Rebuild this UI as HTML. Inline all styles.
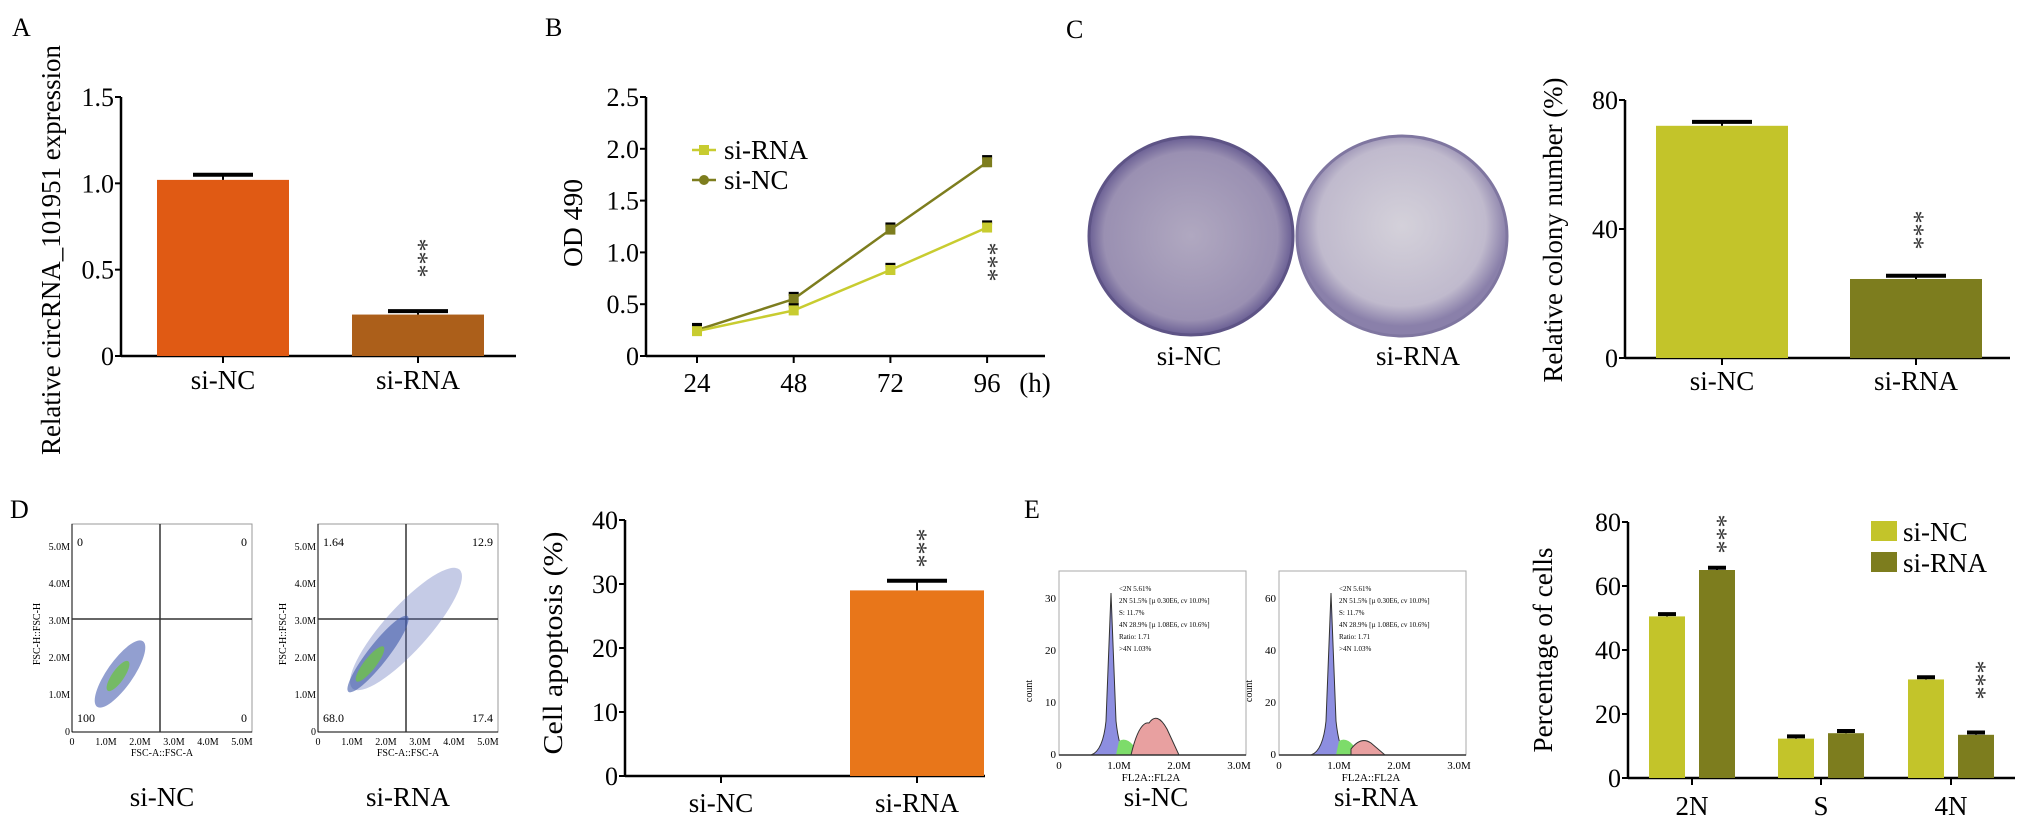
<!DOCTYPE html>
<html><head><meta charset="utf-8"><style>
html,body{margin:0;padding:0;background:#fff;}
svg, svg text{font-family:"Liberation Serif","Times New Roman",serif;}
svg{display:block;}
</style></head><body>
<svg id="fig" width="2031" height="829" viewBox="0 0 2031 829" xmlns="http://www.w3.org/2000/svg" font-family="Liberation Serif, serif">
<defs>
<radialGradient id="plate1" cx="50%" cy="50%" r="50%"><stop offset="0" stop-color="#b0a8c0"/><stop offset="0.85" stop-color="#9a90b2"/><stop offset="1" stop-color="#6a5f94"/></radialGradient>
<radialGradient id="plate2" cx="50%" cy="45%" r="50%"><stop offset="0" stop-color="#d4d1da"/><stop offset="0.8" stop-color="#c0bacd"/><stop offset="1" stop-color="#8a80aa"/></radialGradient>
</defs>
<g font-size="26" fill="#000">
<text x="12" y="36">A</text>
<text x="545" y="36">B</text>
<text x="1066" y="38">C</text>
<text x="10" y="518">D</text>
<text x="1024" y="518">E</text>
</g>
<g>
<ellipse cx="1191" cy="236" rx="102" ry="99" fill="url(#plate1)" stroke="#5e5486" stroke-width="3"/>
<ellipse cx="1402" cy="236" rx="105" ry="100" fill="url(#plate2)" stroke="#7f76a0" stroke-width="3"/>
<text x="1189" y="365" font-size="27" text-anchor="middle">si-NC</text>
<text x="1418" y="365" font-size="27" text-anchor="middle">si-RNA</text>
</g>
<g id="flow"></g>
<g id="hist"></g>
<g id="charts"></g>
</svg>
<script>
const NS="http://www.w3.org/2000/svg";
function el(tag,attrs,parent,txt){const e=document.createElementNS(NS,tag);for(const k in attrs)e.setAttribute(k,attrs[k]);if(txt!==undefined)e.textContent=txt;(parent||document.getElementById('charts')).appendChild(e);return e;}

// ---- data ----
const aCats=["si-NC","si-RNA"];
const aVals=[1.02,0.24];
const aErr=[0.03,0.02];
const aTicks=[0,0.5,1.0,1.5];
const bTimes=["24","48","72","96"];
const bSiRNA=[0.24,0.44,0.83,1.24];
const bSiNC=[0.25,0.55,1.22,1.87];
const bTicks=[0,0.5,1.0,1.5,2.0,2.5];
const cCats=["si-NC","si-RNA"];
const cVals=[72,24.5];
const cErr=[1.2,1];
const cTicks=[0,40,80];
const dCats=["si-NC","si-RNA"];
const dVals=[0,29];
const dErr=[0,1.5];
const dTicks=[0,10,20,30,40];
const eCats=["2N","S","4N"];
const eNC=[50.5,12.3,30.8];
const eRNA=[65,14,13.5];
const eTicks=[0,20,40,60,80];

function axisY(g,x,y0,y1,ticks,max,fmt,title,tx,tyc,tlen,nm){
  el('line',{x1:x,y1:y0+1,x2:x,y2:y1,stroke:'#000','stroke-width':2.5},g);
  ticks.forEach(t=>{const y=y0-(t/max)*(y0-y1);
    el('line',{x1:x-6,y1:y,x2:x,y2:y,stroke:'#000','stroke-width':2},g);
    const tt=el('text',{x:x-7,y:y+9,'text-anchor':'end','font-size':26},g,fmt(t));
    });
  const tl=el('text',{x:tx,y:tyc,'text-anchor':'middle','font-size':27,textLength:tlen,lengthAdjust:'spacingAndGlyphs',transform:`rotate(-90 ${tx} ${tyc})`},g,title);
  
}
function errbar(g,cx,y,ey,w){el('line',{x1:cx,y1:y,x2:cx,y2:ey,stroke:'#000','stroke-width':2},g);el('line',{x1:cx-w,y1:ey,x2:cx+w,y2:ey,stroke:'#000','stroke-width':4},g);}
function stars(g,x,y){const t=el('text',{x:x,y:y,'font-size':26,'text-anchor':'middle',fill:'#333',transform:`rotate(90 ${x} ${y})`,dy:'8'},g,'***');}
function xlab(g,x,y,t,nm){const l=el('text',{x:x,y:y,'text-anchor':'middle','font-size':27},g,t);}

// ---- Panel A ----
(function(){const g=el('g',{});
 const X=121,Y0=356,Y1=97,M=1.5,sy=v=>Y0-v/M*(Y0-Y1);
 axisY(g,X,Y0,Y1,aTicks,M,t=>t===0?'0':t.toFixed(1),'Relative circRNA_101951 expression',60,250,410,'chart-a');
 el('line',{x1:X,y1:Y0,x2:516,y2:Y0,stroke:'#000','stroke-width':2.5},g);
 const cols=['#e05a14','#ac5f1a'];const xs=[157,352],w=132;
 aVals.forEach((v,i)=>{const b=el('rect',{x:xs[i],y:sy(v),width:w,height:Y0-sy(v),fill:cols[i]},g);
  
  errbar(g,xs[i]+w/2,sy(v),sy(v+aErr[i]),30);
  el('line',{x1:xs[i]+w/2,y1:Y0,x2:xs[i]+w/2,y2:Y0+7,stroke:'#000','stroke-width':2},g);
  xlab(g,xs[i]+w/2,389,aCats[i],'x-label-a');});
 stars(g,418,258);
})();

// ---- Panel B ----
(function(){const g=el('g',{});
 const X=646,Y0=356,Y1=97,M=2.5,sy=v=>Y0-v/M*(Y0-Y1);const sx=i=>697+i*96.7;
 axisY(g,X,Y0,Y1,bTicks,M,t=>t===0?'0':t.toFixed(1),'OD 490',582,223,88,'chart-b');
 el('line',{x1:X,y1:Y0,x2:1045,y2:Y0,stroke:'#000','stroke-width':2.5},g);
 bTimes.forEach((t,i)=>{el('line',{x1:sx(i),y1:Y0,x2:sx(i),y2:Y0+7,stroke:'#000','stroke-width':2},g);
  xlab(g,sx(i),392,t,'x-tick-b');});
 el('text',{x:1035,y:392,'text-anchor':'middle','font-size':27},g,'(h)');
 [[bSiNC,'#7d7d1e','line-si-nc'],[bSiRNA,'#c8cc30','line-si-rna']].forEach(([arr,c,nm])=>{
  const p=el('polyline',{points:arr.map((v,i)=>sx(i)+','+sy(v)).join(' '),fill:'none',stroke:c,'stroke-width':2.5},g);
  
  arr.forEach((v,i)=>{errbar(g,sx(i),sy(v),sy(v+0.05),5);const m=el('rect',{x:sx(i)-5,y:sy(v)-5,width:10,height:10,fill:c},g);
   });});
 const lg=el('g',{},g);
 el('line',{x1:692,y1:150,x2:716,y2:150,stroke:'#c8cc30','stroke-width':2.5},lg);el('rect',{x:699,y:145,width:10,height:10,fill:'#c8cc30'},lg);
 el('text',{x:724,y:159,'font-size':27},lg,'si-RNA');
 el('line',{x1:692,y1:180,x2:716,y2:180,stroke:'#7d7d1e','stroke-width':2.5},lg);el('circle',{cx:704,cy:180,r:5,fill:'#7d7d1e'},lg);
 el('text',{x:724,y:189,'font-size':27},lg,'si-NC');
 stars(g,988,262);
})();

// ---- Panel C bar ----
(function(){const g=el('g',{});
 const X=1625,Y0=358,Y1=100,M=80,sy=v=>Y0-v/M*(Y0-Y1);
 axisY(g,X,Y0,Y1,cTicks,M,t=>String(t),'Relative colony number (%)',1562,230,305,'chart-c');
 el('line',{x1:X,y1:Y0,x2:2010,y2:Y0,stroke:'#000','stroke-width':2.5},g);
 const cols=['#c3c42a','#7d7d1e'];const xs=[1656,1850],w=132;
 cVals.forEach((v,i)=>{const b=el('rect',{x:xs[i],y:sy(v),width:w,height:Y0-sy(v),fill:cols[i]},g);
  
  errbar(g,xs[i]+w/2,sy(v),sy(v+cErr[i]),30);
  el('line',{x1:xs[i]+w/2,y1:Y0,x2:xs[i]+w/2,y2:Y0+7,stroke:'#000','stroke-width':2},g);
  xlab(g,xs[i]+w/2,390,cCats[i],'x-label-c');});
 stars(g,1914,230);
})();

// ---- Panel D bar ----
(function(){const g=el('g',{});
 const X=625,Y0=776,Y1=520,M=40,sy=v=>Y0-v/M*(Y0-Y1);
 axisY(g,X,Y0,Y1,dTicks,M,t=>String(t),'Cell apoptosis (%)',562,643,223,'chart-d');
 el('line',{x1:X,y1:Y0,x2:985,y2:Y0,stroke:'#000','stroke-width':2.5},g);
 const xs=[654,850],w=134;
 dVals.forEach((v,i)=>{const b=el('rect',{x:xs[i],y:sy(v),width:w,height:Y0-sy(v),fill:'#e8761a'},g);
  
  if(v>0)errbar(g,xs[i]+w/2,sy(v),sy(v+dErr[i]),30);
  el('line',{x1:xs[i]+w/2,y1:Y0,x2:xs[i]+w/2,y2:Y0+7,stroke:'#000','stroke-width':2},g);
  xlab(g,xs[i]+w/2,812,dCats[i],'x-label-d');});
 stars(g,917,548);
})();

// ---- Panel E bar ----
(function(){const g=el('g',{});
 const X=1628,Y0=778,Y1=522,M=80,sy=v=>Y0-v/M*(Y0-Y1);
 axisY(g,X,Y0,Y1,eTicks,M,t=>String(t),'Percentage of cells',1552,650,205,'chart-e');
 el('line',{x1:X,y1:Y0,x2:2015,y2:Y0,stroke:'#000','stroke-width':2.5},g);
 const w=36;const gx=[1649,1778,1908];
 eCats.forEach((c,i)=>{
  const b1=el('rect',{x:gx[i],y:sy(eNC[i]),width:w,height:Y0-sy(eNC[i]),fill:'#c3c42a'},g);
  
  const b2=el('rect',{x:gx[i]+50,y:sy(eRNA[i]),width:w,height:Y0-sy(eRNA[i]),fill:'#7d7d1e'},g);
  
  errbar(g,gx[i]+w/2,sy(eNC[i]),sy(eNC[i]+0.7),9);errbar(g,gx[i]+50+w/2,sy(eRNA[i]),sy(eRNA[i]+0.7),9);
  const cx=gx[i]+43;el('line',{x1:cx,y1:Y0,x2:cx,y2:Y0+7,stroke:'#000','stroke-width':2},g);
  xlab(g,cx,815,c,'x-label-e');});
 stars(g,1717,534);stars(g,1976,680);
 const lg=el('g',{},g);
 el('rect',{x:1871,y:521,width:26,height:20,fill:'#c3c42a'},lg);el('text',{x:1903,y:541,'font-size':27},lg,'si-NC');
 el('rect',{x:1871,y:552,width:26,height:20,fill:'#7d7d1e'},lg);el('text',{x:1903,y:572,'font-size':27},lg,'si-RNA');
})();

// ---- flow plots (D) ----
(function(){const g=document.getElementById('flow');
 const plots=[{x:72,lab:'si-NC',q:['0','0','100','0'],spread:0},{x:318,lab:'si-RNA',q:['1.64','12.9','68.0','17.4'],spread:1}];
 plots.forEach(p=>{const pg=el('g',{},g);
  const W=180,H=208,x0=p.x,x1=p.x+W,y0=524,y1=y0+H;
  el('rect',{x:x0,y:y0,width:W,height:H,fill:'#fff',stroke:'#999','stroke-width':1},pg);
  el('line',{x1:x0,y1:y1,x2:x1,y2:y1,stroke:'#000','stroke-width':1},pg);el('line',{x1:x0,y1:y0,x2:x0,y2:y1,stroke:'#000','stroke-width':1},pg);
  ['0','1.0M','2.0M','3.0M','4.0M','5.0M'].forEach((t,i)=>{const yy=y1-i*37,xx=x0+i*34;
   el('text',{x:x0-2,y:yy+3,'font-size':10,'text-anchor':'end'},pg,t);el('text',{x:xx,y:y1+13,'font-size':10,'text-anchor':'middle'},pg,t);});
  el('text',{x:x0+90,y:y1+24,'font-size':10,'text-anchor':'middle'},pg,'FSC-A::FSC-A');
  el('text',{x:x0-32,y:y0+110,'font-size':10,'text-anchor':'middle',transform:`rotate(-90 ${x0-32} ${y0+110})`},pg,'FSC-H::FSC-H');
  el('line',{x1:x0+88,y1:y0,x2:x0+88,y2:y1,stroke:'#333','stroke-width':1.5},pg);
  el('line',{x1:x0,y1:y0+95,x2:x1,y2:y0+95,stroke:'#333','stroke-width':1.5},pg);
  el('text',{x:x0+5,y:y0+22,'font-size':12},pg,p.q[0]);el('text',{x:x1-5,y:y0+22,'font-size':12,'text-anchor':'end'},pg,p.q[1]);
  el('text',{x:x0+5,y:y1-10,'font-size':12},pg,p.q[2]);el('text',{x:x1-5,y:y1-10,'font-size':12,'text-anchor':'end'},pg,p.q[3]);
  if(!p.spread){el('ellipse',{cx:x0+48,cy:y0+150,rx:40,ry:13,transform:`rotate(-55 ${x0+48} ${y0+150})`,fill:'#4a5fb0',opacity:0.6},pg);
   el('ellipse',{cx:x0+46,cy:y0+152,rx:18,ry:6,transform:`rotate(-55 ${x0+46} ${y0+152})`,fill:'#6ec04a',opacity:0.8},pg);}
  else{el('ellipse',{cx:x0+88,cy:y0+105,rx:80,ry:22,transform:`rotate(-48 ${x0+88} ${y0+105})`,fill:'#5a6ab8',opacity:0.35},pg);
   el('ellipse',{cx:x0+60,cy:y0+130,rx:48,ry:10,transform:`rotate(-52 ${x0+60} ${y0+130})`,fill:'#3e58a8',opacity:0.6},pg);
   el('ellipse',{cx:x0+52,cy:y0+140,rx:22,ry:6,transform:`rotate(-52 ${x0+52} ${y0+140})`,fill:'#6ec04a',opacity:0.8},pg);}
  const l=el('text',{x:x0+90,y:806,'font-size':27,'text-anchor':'middle'},pg,p.lab);});
})();

// ---- histograms (E) ----
(function(){const g=document.getElementById('hist');
 const hs=[{x:1059,lab:'si-NC',yt:['0','10','20','30'],r:'M72 184 Q80 150 90 152 Q98 140 108 158 L120 184Z'},{x:1279,lab:'si-RNA',yt:['0','20','40','60'],r:'M72 178 Q82 165 92 172 L106 184 L72 184Z'}];
 hs.forEach(h=>{const pg=el('g',{transform:`translate(${h.x},571)`},g);
  el('rect',{x:0,y:0,width:187,height:184,fill:'#fff',stroke:'#aaa','stroke-width':1},pg);
  h.yt.forEach((t,i)=>el('text',{x:-3,y:184-i*52+3,'font-size':11,'text-anchor':'end'},pg,t));
  ['0','1.0M','2.0M','3.0M'].forEach((t,i)=>el('text',{x:i*60,y:198,'font-size':11,'text-anchor':'middle'},pg,t));
  el('text',{x:92,y:210,'font-size':11,'text-anchor':'middle'},pg,'FL2A::FL2A');
  el('text',{x:-27,y:120,'font-size':10,'text-anchor':'middle',transform:'rotate(-90 -27 120)'},pg,'count');
  el('path',{d:'M32 184 Q44 180 47 150 L52 22 L57 150 Q60 178 67 184Z',fill:'#8d8ee0',stroke:'#333','stroke-width':1},pg);
  el('path',{d:'M57 184 L60 170 Q67 166 74 174 L77 184Z',fill:'#7ddc6a'},pg);
  el('path',{d:h.r,fill:'#e8a0a0',stroke:'#333','stroke-width':1},pg);
  el('line',{x1:0,y1:184,x2:187,y2:184,stroke:'#333','stroke-width':1.5},pg);
  ['<2N 5.61%','2N 51.5% [µ 0.30E6, cv 10.0%]','S: 11.7%','4N 28.9% [µ 1.08E6, cv 10.6%]','Ratio: 1.71','>4N 1.03%'].forEach((t,i)=>el('text',{x:60,y:20+i*12,'font-size':7},pg,t));
  const l=el('text',{x:97,y:235,'font-size':27,'text-anchor':'middle'},pg,h.lab);});
})();
</script>
</body></html>
